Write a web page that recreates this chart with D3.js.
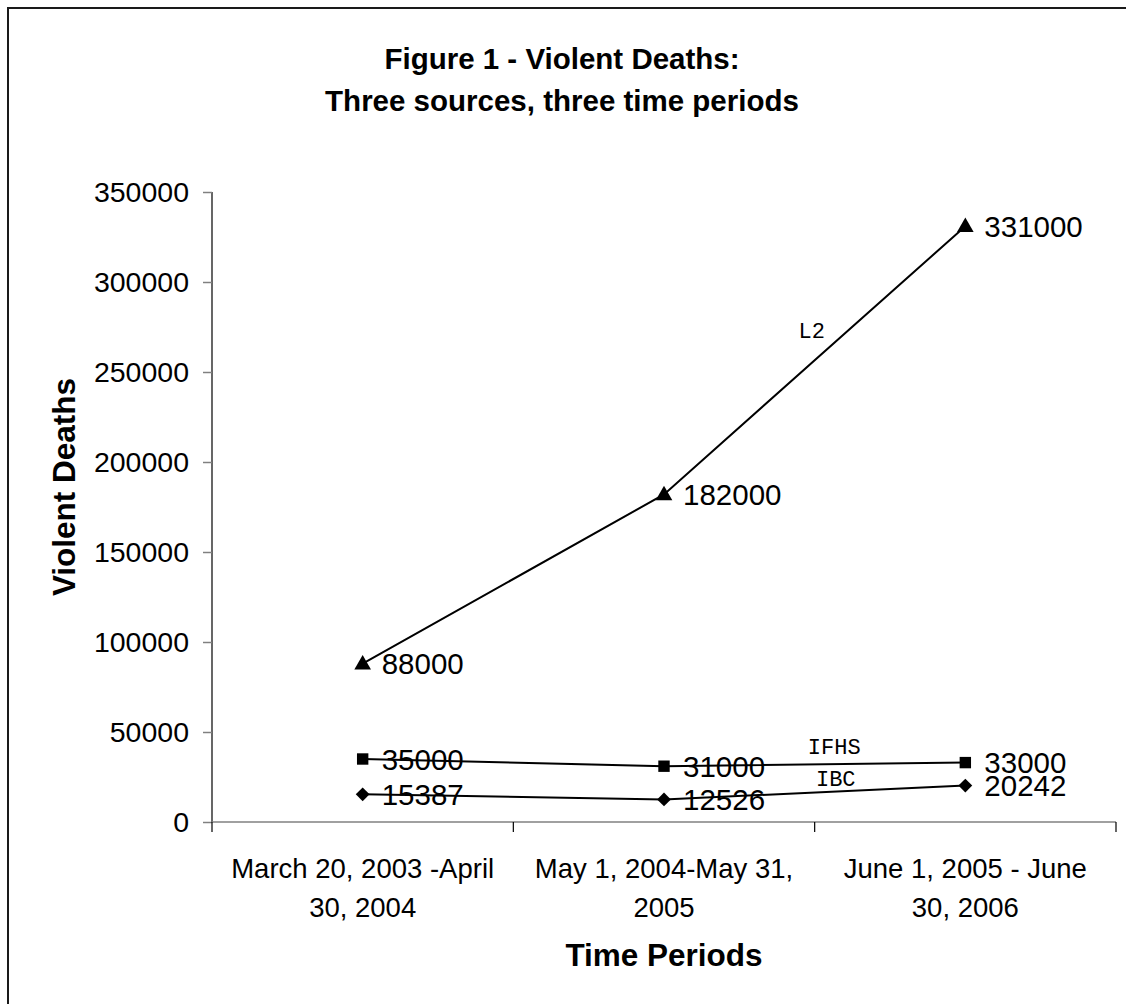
<!DOCTYPE html>
<html>
<head>
<meta charset="utf-8">
<script src="https://cdn.jsdelivr.net/npm/d3@7"></script>
<style>
  html, body { margin: 0; padding: 0; background: #fff; }
  svg { display: block; }
  text { font-family: "Liberation Sans", Arial, sans-serif; fill: #000; }
</style>
</head>
<body>
<svg id="chart" width="1126" height="1004"></svg>
<script>
// Time periods (categories), each label split into two lines
const periods = ["P1", "P2", "P3"];
const periodLines = [
  ["March 20, 2003 -April", "30, 2004"],
  ["May 1, 2004-May 31,", "2005"],
  ["June 1, 2005 - June", "30, 2006"]
];

// Series values
const l2Values   = [88000, 182000, 331000];
const ifhsValues = [35000, 31000, 33000];
const ibcValues  = [15387, 12526, 20242];

// Y axis ticks
const yTicks = [0, 50000, 100000, 150000, 200000, 250000, 300000, 350000];

const series = [
  { name: "L2",   values: l2Values,   marker: "triangle", labelAt: [1.49, 272000] },
  { name: "IFHS", values: ifhsValues, marker: "square",   labelAt: [1.565, 41000] },
  { name: "IBC",  values: ibcValues,  marker: "diamond",  labelAt: [1.57, 22800] }
];

const svg = d3.select("#chart");

// Outer frame (left and top edges visible; right/bottom run past the page)
svg.append("rect")
  .attr("x", 8).attr("y", 8)
  .attr("width", 1140).attr("height", 1020)
  .attr("fill", "none").attr("stroke", "#1a1a1a").attr("stroke-width", 2);

const plot = { left: 212, right: 1116, top: 192, bottom: 822 };

const x = d3.scaleBand().domain(periods).range([plot.left, plot.right]).padding(0);
const xc = i => x(periods[0]) + (i + 0.5) * x.step();
const y = d3.scaleLinear().domain([0, 350000]).range([plot.bottom, plot.top]);

// Title
const title = svg.append("text")
  .attr("text-anchor", "middle")
  .style("font-weight", "bold").style("font-size", "29.5px");
title.append("tspan").attr("x", 562).attr("y", 69).text("Figure 1 - Violent Deaths:");
title.append("tspan").attr("x", 562).attr("y", 111).text("Three sources, three time periods");

// Y axis
const yAxis = svg.append("g")
  .attr("transform", `translate(${plot.left},0)`)
  .call(d3.axisLeft(y).tickValues(yTicks).tickSize(9).tickPadding(14).tickFormat(d3.format("d")));
yAxis.select(".domain").attr("stroke", "#000").attr("stroke-width", 1.2).attr("d", `M0,${plot.top}V${plot.bottom}`);
yAxis.selectAll(".tick line").attr("stroke", "#808080").attr("stroke-width", 1.5);
yAxis.selectAll(".tick text")
  .style("font-size", "28.5px").style("font-family", "'Liberation Sans', Arial, sans-serif")
  .attr("fill", "#000");

// X axis: ticks at category boundaries
const xAxis = svg.append("g").attr("transform", `translate(0,${plot.bottom})`);
xAxis.append("line")
  .attr("x1", plot.left).attr("x2", plot.right)
  .attr("stroke", "#808080").attr("stroke-width", 1.5);
const bounds = periods.map(p => x(p)).concat([plot.right]);
xAxis.selectAll(".xtick").data(bounds).join("line")
  .attr("class", "xtick")
  .attr("x1", d => d).attr("x2", d => d)
  .attr("y1", 0).attr("y2", 10)
  .attr("stroke", "#000").attr("stroke-width", 1.2);

// Category labels
periodLines.forEach((lines, i) => {
  const t = svg.append("text")
    .attr("text-anchor", "middle")
    .style("font-size", "27.5px");
  lines.forEach((ln, j) => {
    t.append("tspan").attr("x", xc(i)).attr("y", 878 + j * 39).text(ln);
  });
});

// Axis titles
svg.append("text")
  .attr("x", xc(1)).attr("y", 966)
  .attr("text-anchor", "middle")
  .style("font-weight", "bold").style("font-size", "31.5px")
  .text("Time Periods");

svg.append("text")
  .attr("transform", "translate(75,487) rotate(-90)")
  .attr("text-anchor", "middle")
  .style("font-weight", "bold").style("font-size", "31.5px")
  .text("Violent Deaths");

// Lines
const line = d3.line().x((d, i) => xc(i)).y(d => y(d));
const symbolType = { triangle: d3.symbolTriangle, square: d3.symbolSquare, diamond: d3.symbolSquare };
const symbolSize = { triangle: 120, square: 130, diamond: 95 };
const symbolRotate = { triangle: 0, square: 0, diamond: 45 };

series.forEach(s => {
  svg.append("path")
    .datum(s.values)
    .attr("d", line)
    .attr("fill", "none").attr("stroke", "#000").attr("stroke-width", 2);

  svg.selectAll(null).data(s.values).join("path")
    .attr("transform", (d, i) =>
      `translate(${xc(i)},${y(d) + (s.marker === "triangle" ? 1 : 0)}) rotate(${symbolRotate[s.marker]})`)
    .attr("d", d3.symbol().type(symbolType[s.marker]).size(symbolSize[s.marker]))
    .attr("fill", "#000");

  // Value labels
  svg.selectAll(null).data(s.values).join("text")
    .attr("x", (d, i) => xc(i) + 19)
    .attr("y", d => y(d))
    .attr("dominant-baseline", "central")
    .style("font-size", "29.5px")
    .text(d => d);

  // Series name label
  svg.append("text")
    .attr("x", xc(0) + s.labelAt[0] * x.step())
    .attr("y", y(s.labelAt[1]))
    .attr("text-anchor", "middle")
    .attr("dominant-baseline", "central")
    .style("font-family", "'Liberation Mono', 'Courier New', monospace")
    .style("font-size", "22px")
    .text(s.name);
});
</script>
</body>
</html>
